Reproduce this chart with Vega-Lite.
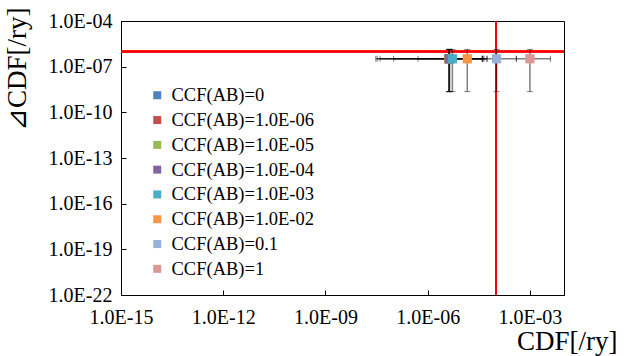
{
  "$schema": "https://vega.github.io/schema/vega-lite/v6.json",
  "width": 443,
  "height": 274,
  "autosize": {"type": "none"},
  "padding": {"left": 121, "top": 21, "right": 69, "bottom": 61},
  "background": "white",
  "config": {
    "view": {"stroke": "black", "strokeWidth": 1},
    "font": "Liberation Serif",
    "axis": {"grid": false, "domainColor": "black", "tickColor": "black", "labelColor": "black", "titleColor": "black", "labelFont": "Liberation Serif", "titleFont": "Liberation Serif", "labelFontSize": 20, "titleFontSize": 27, "titleFontWeight": "normal", "tickSize": -5},
    "legend": {"labelFont": "Liberation Serif"}
  },
  "data": {
    "values": [
      {"series": "CCF(AB)=0", "x": 4.2e-6, "xlo": 3.0e-8, "xhi": 4.0e-5, "y": 3.3e-7, "ylo": 2.3e-9, "yhi": 1.36e-6},
      {"series": "CCF(AB)=1.0E-06", "x": 4.2e-6, "xlo": 3.3e-8, "xhi": 4.0e-5, "y": 3.3e-7, "ylo": 2.3e-9, "yhi": 1.36e-6},
      {"series": "CCF(AB)=1.0E-05", "x": 4.3e-6, "xlo": 4.0e-8, "xhi": 4.2e-5, "y": 3.3e-7, "ylo": 2.3e-9, "yhi": 1.36e-6},
      {"series": "CCF(AB)=1.0E-04", "x": 4.4e-6, "xlo": 1.0e-7, "xhi": 4.5e-5, "y": 3.3e-7, "ylo": 2.3e-9, "yhi": 1.36e-6},
      {"series": "CCF(AB)=1.0E-03", "x": 5.3e-6, "xlo": 5.2e-7, "xhi": 5.5e-5, "y": 3.3e-7, "ylo": 2.3e-9, "yhi": 1.36e-6},
      {"series": "CCF(AB)=1.0E-02", "x": 1.45e-5, "xlo": 5.5e-6, "xhi": 5.5e-5, "y": 3.3e-7, "ylo": 2.3e-9, "yhi": 1.36e-6},
      {"series": "CCF(AB)=0.1", "x": 1.05e-4, "xlo": 4.0e-5, "xhi": 4.0e-4, "y": 3.3e-7, "ylo": 2.3e-9, "yhi": 1.36e-6},
      {"series": "CCF(AB)=1", "x": 1.0e-3, "xlo": 4.0e-4, "xhi": 4.0e-3, "y": 3.3e-7, "ylo": 2.3e-9, "yhi": 1.36e-6}
    ]
  },
  "layer": [
    {
      "mark": {"type": "rule", "color": "#ff0000", "strokeWidth": 1.5},
      "encoding": {"y": {"datum": 1e-6, "type": "quantitative"}}
    },
    {
      "mark": {"type": "rule", "color": "#ff0000", "strokeWidth": 1.5},
      "encoding": {"x": {"datum": 1e-4, "type": "quantitative"}}
    },
    {
      "mark": {"type": "errorbar", "ticks": {"size": 6, "color": "black", "opacity": 0.5}, "rule": {"color": "black", "opacity": 0.5, "strokeWidth": 1.5}},
      "encoding": {
        "x": {"field": "xlo", "type": "quantitative", "title": "CDF[/ry]"},
        "x2": {"field": "xhi"},
        "y": {"field": "y", "type": "quantitative", "title": "⊿CDF[/ry]"}
      }
    },
    {
      "mark": {"type": "errorbar", "ticks": {"size": 6, "color": "black", "opacity": 0.5}, "rule": {"color": "black", "opacity": 0.5, "strokeWidth": 1.5}},
      "encoding": {
        "y": {"field": "ylo", "type": "quantitative", "title": "⊿CDF[/ry]"},
        "y2": {"field": "yhi"},
        "x": {"field": "x", "type": "quantitative", "title": "CDF[/ry]"}
      }
    },
    {
      "mark": {"type": "point", "shape": "square", "filled": true, "size": 85, "opacity": 1},
      "encoding": {
        "x": {
          "field": "x", "type": "quantitative", "title": "CDF[/ry]",
          "scale": {"type": "log", "domain": [1e-15, 1e-2], "nice": false},
          "axis": {
            "values": [1e-15, 1e-12, 1e-9, 1e-6, 1e-3],
            "labelExpr": "'1.0E-' + (-round(log(datum.value)/LN10) < 10 ? '0' : '') + (-round(log(datum.value)/LN10))",
            "labelFont": "Liberation Serif",
            "labelFlush": false,
            "labelOverlap": false,
            "labelPadding": 17,
            "titleAnchor": "end",
            "titleAlign": "right",
            "titleX": 496,
            "titleY": 54,
            "titleBaseline": "alphabetic"
          }
        },
        "y": {
          "field": "y", "type": "quantitative", "title": "⊿CDF[/ry]",
          "scale": {"type": "log", "domain": [1e-22, 1e-4], "nice": false},
          "axis": {
            "values": [1e-22, 1e-19, 1e-16, 1e-13, 1e-10, 1e-7, 1e-4],
            "labelExpr": "'1.0E-' + (-round(log(datum.value)/LN10) < 10 ? '0' : '') + (-round(log(datum.value)/LN10))",
            "labelFont": "Liberation Serif",
            "labelFlush": false,
            "labelOverlap": false,
            "labelPadding": 14,
            "titleAnchor": "end",
            "titleAlign": "right",
            "titleX": -104,
            "titleY": -14,
            "titleAngle": 270,
            "titleBaseline": "middle"
          }
        },
        "color": {
          "field": "series", "type": "nominal",
          "scale": {
            "domain": ["CCF(AB)=0", "CCF(AB)=1.0E-06", "CCF(AB)=1.0E-05", "CCF(AB)=1.0E-04", "CCF(AB)=1.0E-03", "CCF(AB)=1.0E-02", "CCF(AB)=0.1", "CCF(AB)=1"],
            "range": ["#4F81BD", "#C0504D", "#9BBB59", "#8064A2", "#4BACC6", "#F79646", "#95B3D7", "#D99694"]
          },
          "legend": {
            "title": null,
            "orient": "none",
            "legendX": 27,
            "legendY": 65,
            "symbolType": "square",
            "symbolSize": 64,
            "symbolStrokeWidth": 0,
            "labelFont": "Liberation Serif",
            "labelFontSize": 18.5,
            "labelColor": "black",
            "labelOffset": 5,
            "rowPadding": 5.8,
            "labelLimit": 300
          }
        }
      }
    }
  ]
}
